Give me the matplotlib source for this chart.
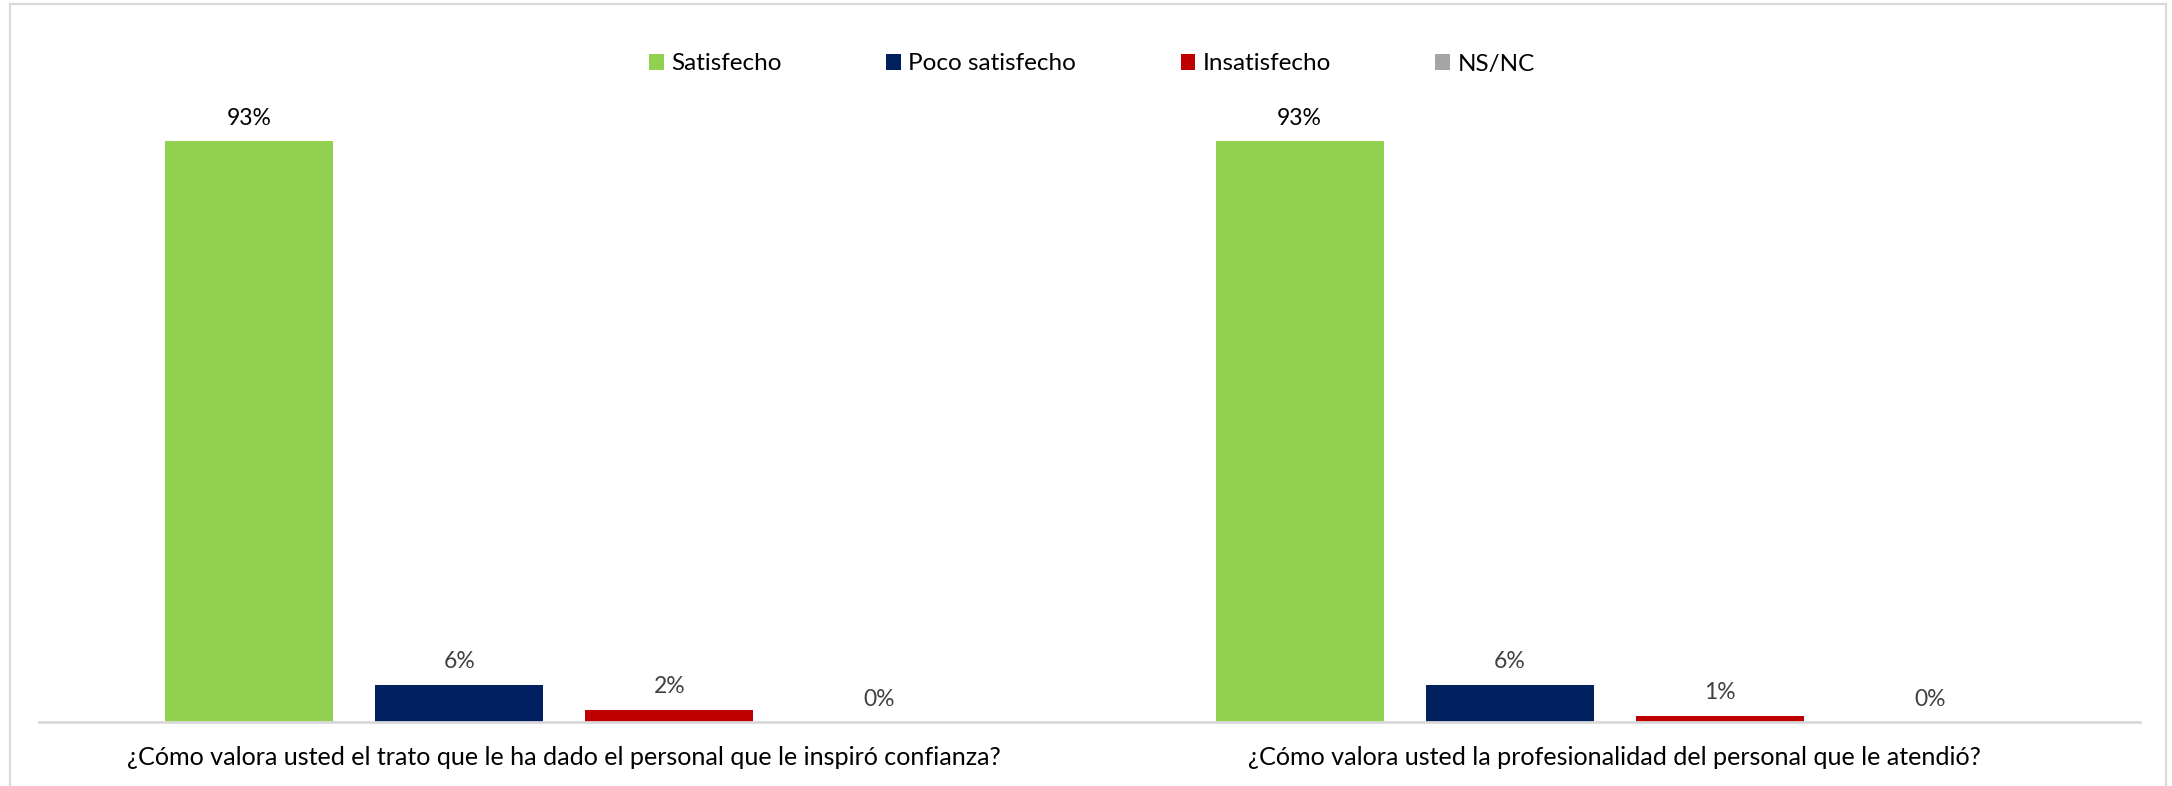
import matplotlib
matplotlib.use("Agg")
import matplotlib.pyplot as plt
from matplotlib.patches import Rectangle, Patch
import numpy as np

plt.rcParams['font.family'] = ['Lato', 'DejaVu Sans']

questions = [
    "¿Cómo valora usted el trato que le ha dado el personal que le inspiró confianza?",
    "¿Cómo valora usted la profesionalidad del personal que le atendió?",
]
series_names = ["Satisfecho", "Poco satisfecho", "Insatisfecho", "NS/NC"]
satisfecho = [93, 93]
poco_satisfecho = [6, 6]
insatisfecho = [2, 1]
ns_nc = [0, 0]

series_values = [satisfecho, poco_satisfecho, insatisfecho, ns_nc]
colors = ["#92D050", "#002060", "#C00000", "#A5A5A5"]
label_colors = ["#000000", "#404040", "#404040", "#404040"]

W, H = 2172, 786
fig = plt.figure(figsize=(W / 100, H / 100), dpi=100)

# light grey outer frame (open at the bottom edge)
fig.patches.append(Rectangle((10 / W, -0.05), (2166 - 10) / W, 1.05 - 4 / H,
                             transform=fig.transFigure, fill=False,
                             edgecolor="#D9D9D9", linewidth=1.6))

ax = fig.add_axes([39 / W, (H - 722) / H, (2140 - 39) / W, (722 - 83) / H])

x = np.arange(len(questions))
step = 0.2
width = 0.16
offsets = (np.arange(len(series_names)) - 1.5) * step

for i, (name, vals) in enumerate(zip(series_names, series_values)):
    bars = ax.bar(x + offsets[i], vals, width=width, color=colors[i], label=name)
    for rect, v in zip(bars, vals):
        ax.annotate(f"{v}%", (rect.get_x() + rect.get_width() / 2, v),
                    xytext=(0, 9), textcoords="offset points",
                    ha="center", va="bottom", fontsize=16.5, color=label_colors[i])

ax.set_xlim(-0.5, 1.5)
ax.set_ylim(0, 102.3)
ax.set_yticks([])
ax.set_xticks(x)
ax.set_xticklabels(questions, fontsize=18.1, color="#000000")
ax.tick_params(axis="x", length=0, pad=17)
for s in ["top", "right", "left"]:
    ax.spines[s].set_visible(False)
ax.spines["bottom"].set_color("#D9D9D9")
ax.spines["bottom"].set_linewidth(2)

handles = [Patch(facecolor=c, edgecolor="none") for c in colors]
fig.legend(handles, series_names, loc="center", bbox_to_anchor=(1092 / W, 1 - 64 / H),
           ncol=4, frameon=False, fontsize=17.5, handlelength=0.6, handleheight=0.6,
           handletextpad=0.3, columnspacing=4.3)

fig.savefig("out.png", dpi=100, facecolor="white")
